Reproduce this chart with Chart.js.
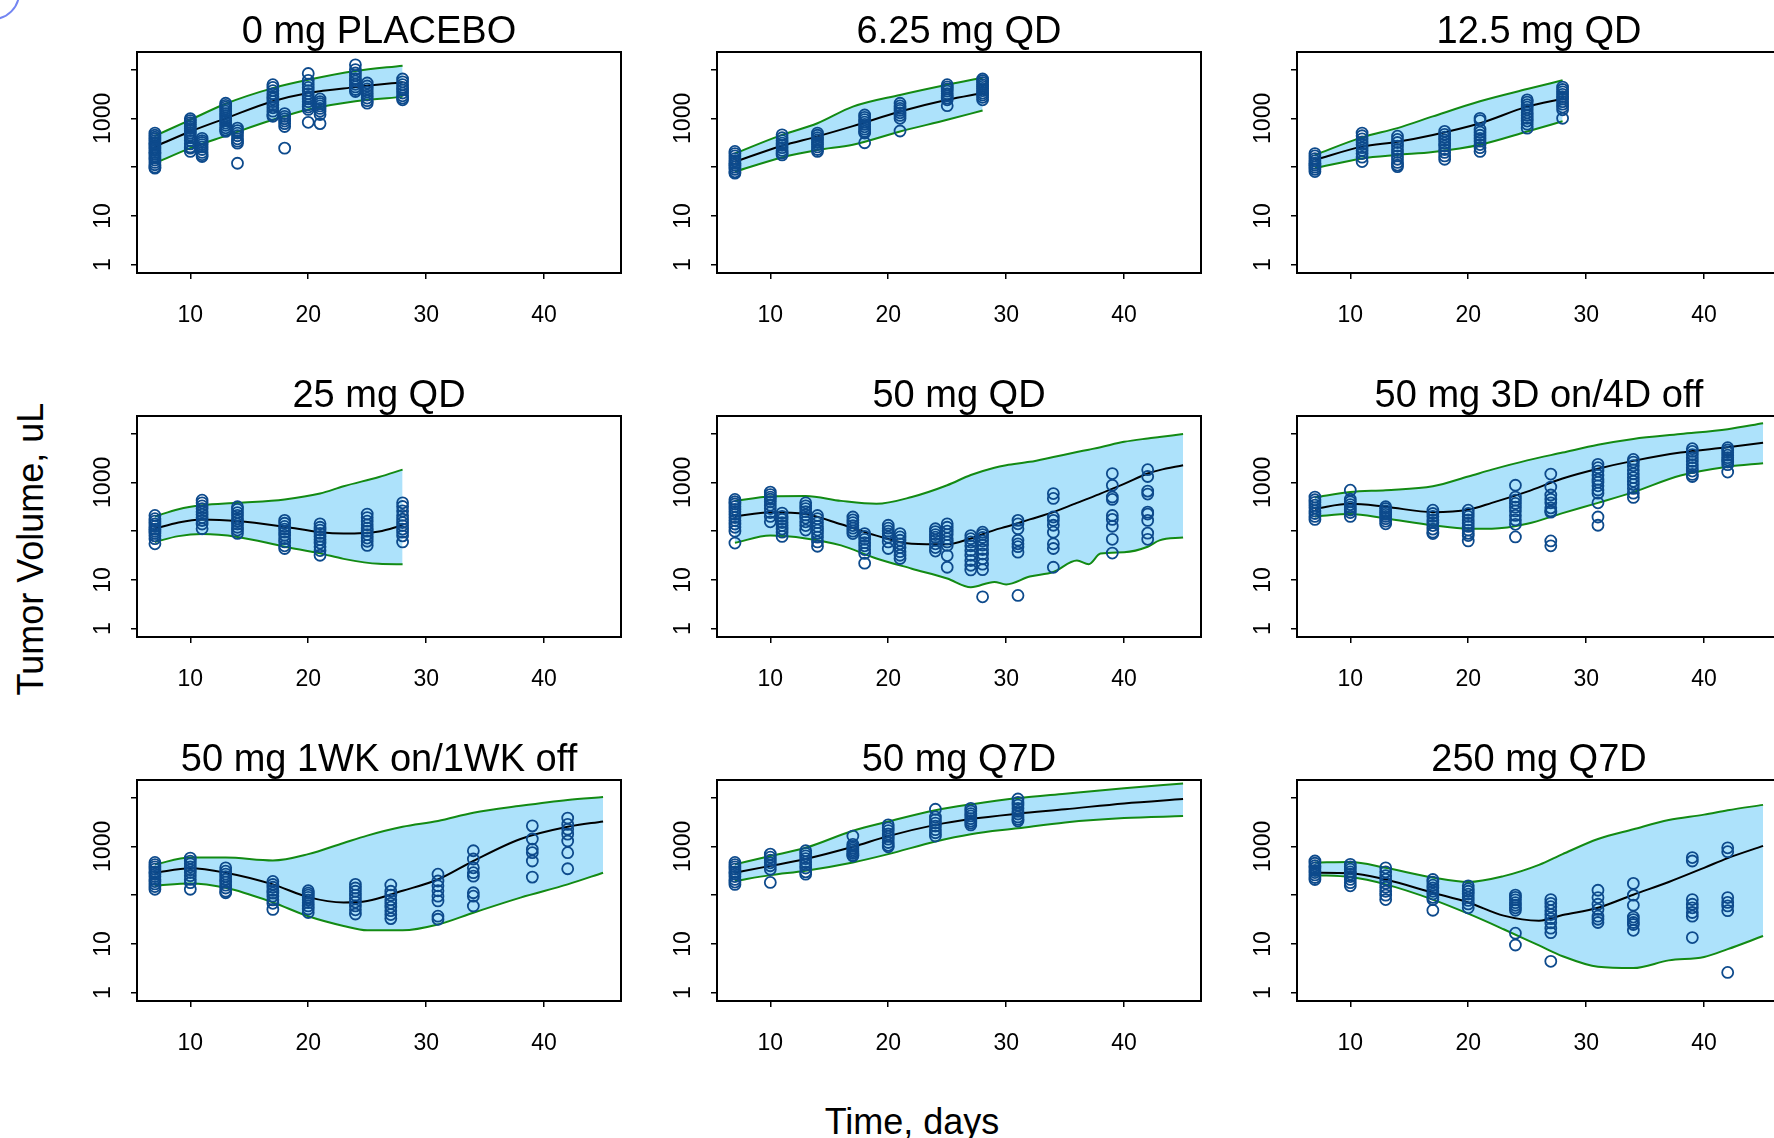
<!DOCTYPE html>
<html>
<head>
<meta charset="utf-8">
<title>Tumor volume by regimen</title>
<script src="https://cdn.jsdelivr.net/npm/chart.js@4.4.1/dist/chart.umd.min.js"></script>
<style>
  html, body { margin: 0; padding: 0; background: #fff; overflow: hidden; }
  body { width: 1774px; height: 1138px; position: relative; font-family: "Liberation Sans", Arial, sans-serif; }
  canvas { position: absolute; }
  .axis-title { position: absolute; font-size: 36px; line-height: 1; color: #000; white-space: nowrap; transform: translate(-50%, -50%); }
  #ylab { left: 31px; top: 549px; transform: translate(-50%, -50%) rotate(-90deg); }
  #xlab { left: 912px; top: 1122px; }
  #corner { position: absolute; left: -34px; top: -34px; width: 50px; height: 50px; border: 2px solid #7385f2; border-radius: 50%; }
</style>
</head>
<body>
<div id="corner"></div>
<div class="axis-title" id="ylab">Tumor Volume, uL</div>
<div class="axis-title" id="xlab">Time, days</div>
<script>
// panel titles and axis ticks
const panelTitles = ['0 mg PLACEBO', '6.25 mg QD', '12.5 mg QD', '25 mg QD', '50 mg QD',
    '50 mg 3D on/4D off', '50 mg 1WK on/1WK off', '50 mg Q7D', '250 mg Q7D'];
const xTickValues = [10, 20, 30, 40];
const yTickValues = [1, 10, 100, 1000, 10000];
const yTickLabels = ['1', '10', '', '1000', ''];

// 0 mg PLACEBO
const obsDays1 = [7, 10, 11, 13, 14, 17, 18, 20, 21, 24, 25, 28];
const obsVals1 = [
    [500, 450, 410, 380, 350, 320, 300, 280, 260, 240, 220, 200, 185, 170, 155, 140, 125, 112, 100, 95],
    [980, 900, 820, 750, 680, 620, 560, 500, 450, 400, 350, 300, 260, 245, 210],
    [390, 350, 320, 290, 260, 230, 200, 180, 165],
    [2040, 1850, 1700, 1550, 1400, 1250, 1120, 1000, 900, 800, 720, 640, 580, 540],
    [630, 560, 500, 440, 380, 340, 310, 120],
    [4900, 4300, 3700, 3200, 2800, 2500, 2200, 1900, 1650, 1400, 1200, 1100],
    [1250, 1100, 980, 880, 780, 680, 245],
    [8300, 6000, 5000, 4300, 3700, 3200, 2800, 2500, 2200, 1900, 1700, 1520, 830],
    [2500, 2200, 2000, 1800, 1600, 1400, 1200, 780],
    [12500, 10000, 8500, 7500, 6500, 5800, 5000, 4400, 3900, 3550],
    [5300, 4600, 4000, 3500, 3000, 2600, 2300, 2050],
    [6400, 5600, 4900, 4300, 3800, 3300, 2900, 2600, 2400]
];
const lineDays1 = [7, 10, 13, 17, 20, 24, 28];
const median1 = [263, 537, 1000, 2239, 3311, 4365, 5495];
const lower1 = [120, 245, 437, 933, 1514, 2239, 2754];
const upper1 = [437, 933, 1995, 4169, 6166, 9333, 12023];

// 6.25 mg QD
const obsDays2 = [7, 11, 14, 18, 21, 25, 28];
const obsVals2 = [
    [210, 190, 170, 150, 135, 120, 110, 100, 90, 80, 75],
    [460, 400, 350, 310, 280, 250, 220, 195, 178],
    [500, 450, 400, 360, 320, 290, 260, 230, 210],
    [1170, 1050, 940, 840, 750, 670, 600, 540, 500, 316],
    [2040, 1800, 1600, 1450, 1300, 1150, 1000, 550],
    [4900, 4400, 4000, 3600, 3200, 2900, 2600, 2400, 1820],
    [6400, 5900, 5400, 4900, 4500, 4100, 3700, 3300, 3000, 2700, 2400]
];
const lineDays2 = [7, 11, 14, 17, 21, 25, 28];
const median2 = [129, 275, 427, 692, 1380, 2399, 3311];
const lower2 = [81, 158, 224, 288, 537, 933, 1445];
const upper2 = [191, 457, 794, 1738, 3020, 4898, 6761];

// 12.5 mg QD
const obsDays3 = [7, 11, 14, 18, 21, 25, 28];
const obsVals3 = [
    [190, 170, 150, 135, 120, 110, 100, 90, 81],
    [500, 440, 380, 330, 290, 250, 220, 190, 160, 130],
    [430, 370, 320, 270, 230, 200, 170, 145, 125, 110, 102],
    [540, 470, 410, 360, 310, 270, 230, 200, 170, 145],
    [1000, 900, 600, 520, 450, 390, 340, 290, 250, 210],
    [2400, 2150, 1900, 1700, 1500, 1300, 1150, 1000, 880, 760, 630],
    [4370, 3900, 3500, 3100, 2800, 2500, 2200, 1950, 1700, 1500, 1000]
];
const lineDays3 = [7, 11, 14, 17, 21, 25, 28];
const median3 = [141, 263, 331, 457, 794, 1738, 2512];
const lower3 = [95, 151, 178, 204, 288, 537, 871];
const upper3 = [178, 407, 631, 1096, 2239, 3981, 6026];

// 25 mg QD
const obsDays4 = [7, 11, 14, 18, 21, 25, 28];
const obsVals4 = [
    [210, 180, 160, 140, 125, 110, 100, 90, 80, 70, 55],
    [430, 380, 330, 290, 250, 220, 190, 165, 140, 112],
    [316, 280, 240, 210, 180, 160, 140, 120, 105, 90],
    [166, 145, 125, 110, 95, 82, 70, 60, 50, 44],
    [141, 120, 105, 90, 78, 67, 57, 48, 40, 32],
    [224, 190, 160, 135, 115, 100, 85, 72, 62, 51],
    [380, 320, 260, 210, 175, 150, 130, 110, 95, 80, 60]
];
const lineDays4 = [7, 9, 11, 14, 18, 21, 23, 26, 28];
const median4 = [112, 151, 174, 162, 123, 95, 89, 98, 132];
const lower4 = [60, 79, 87, 76, 48, 35, 27, 21.4, 21];
const upper4 = [200, 282, 339, 380, 447, 589, 832, 1288, 1820];

// 50 mg QD
const obsDays5 = [7, 10, 11, 13, 14, 17, 18, 20, 21, 24, 25, 27, 28, 31, 34, 39, 42];
const obsVals5 = [
    [447, 400, 360, 320, 280, 250, 220, 190, 165, 140, 120, 100, 57],
    [630, 560, 500, 450, 400, 340, 290, 240, 200, 155],
    [234, 200, 175, 150, 130, 110, 95, 78],
    [380, 330, 290, 250, 215, 185, 155, 130, 105],
    [209, 180, 150, 125, 105, 90, 75, 60, 49],
    [195, 170, 150, 130, 115, 100, 89],
    [89, 78, 68, 58, 50, 42, 35, 22],
    [132, 115, 100, 88, 75, 60, 44],
    [89, 76, 65, 55, 46, 38, 32, 27.5],
    [112, 98, 85, 75, 65, 55, 46, 39],
    [141, 120, 100, 85, 70, 60, 51, 31.6, 18.2],
    [81, 70, 60, 50, 40, 32, 25, 20, 16],
    [95, 85, 74, 63, 52, 42, 34, 27, 21, 16.2, 4.5],
    [166, 141, 112, 65, 55, 48, 37, 4.8],
    [589, 468, 195, 166, 132, 95, 55, 44, 18.2],
    [1514, 871, 501, 447, 209, 174, 126, 68, 35.5],
    [1820, 1318, 661, 575, 245, 224, 166, 91, 68]
];
const lineDays5 = [7, 10, 13, 16, 19, 22, 25, 27, 29, 30, 32, 34, 36, 37, 38, 40, 42, 43, 45];
const median5 = [200, 245, 224, 138, 81, 55, 53.7, 70.8, 105, 123, 174, 245, 380, 468, 589, 933, 1514, 1778, 2239];
const lower5 = [57.5, 81, 71, 51, 27.5, 17, 10.7, 7.1, 9.1, 8.1, 11.7, 14.5, 25, 21, 34.7, 37, 47.9, 64.6, 74];
const upper5 = [417, 513, 525, 417, 363, 501, 871, 1413, 1995, 2239, 2630, 3311, 4169, 4677, 5248, 6761, 7943, 8511, 9772];

// 50 mg 3D on/4D off
const obsDays6 = [7, 10, 13, 17, 20, 24, 27, 31, 34, 39, 42];
const obsVals6 = [
    [500, 440, 390, 340, 300, 260, 230, 200, 174],
    [690, 450, 400, 350, 310, 270, 240, 200],
    [316, 290, 260, 240, 220, 200, 180, 160, 141],
    [269, 230, 200, 170, 150, 130, 110, 95, 89],
    [269, 230, 200, 170, 145, 125, 105, 90, 81, 63],
    [871, 500, 430, 370, 310, 260, 210, 170, 138, 76],
    [1479, 800, 550, 450, 380, 300, 260, 245, 63, 50],
    [2344, 2000, 1700, 1400, 1150, 1000, 850, 700, 600, 380, 195, 132],
    [2951, 2600, 2200, 1800, 1500, 1250, 1050, 900, 750, 600, 490],
    [4898, 4300, 3700, 3200, 2700, 2300, 2000, 1700, 1450, 1318],
    [5129, 4600, 4100, 3600, 3200, 2900, 2600, 2300, 1622]
];
const lineDays6 = [7, 10, 13, 17, 20, 22, 25, 28, 31, 34, 38, 42, 45];
const median6 = [288, 363, 316, 245, 275, 380, 646, 1202, 1905, 2754, 4074, 5248, 6457];
const lower6 = [200, 224, 182, 132, 112, 112, 141, 234, 380, 631, 1380, 2089, 2455];
const upper6 = [490, 631, 692, 832, 1318, 1820, 2818, 4074, 5888, 7762, 9772, 12303, 16218];

// 50 mg 1WK on/1WK off
const obsDays7 = [7, 10, 13, 17, 20, 24, 27, 31, 34, 39, 42];
const obsVals7 = [
    [468, 420, 380, 340, 300, 270, 240, 210, 190, 170, 150, 132],
    [575, 500, 440, 380, 330, 290, 250, 210, 180, 132],
    [363, 310, 270, 240, 210, 185, 160, 140, 120, 112],
    [191, 165, 145, 125, 110, 95, 80, 68, 51],
    [123, 110, 100, 90, 80, 70, 60, 52, 44],
    [166, 140, 120, 100, 85, 72, 60, 50, 41],
    [162, 120, 100, 80, 68, 57, 48, 40, 33],
    [269, 195, 155, 123, 95, 76, 37, 32],
    [813, 550, 363, 288, 245, 112, 95, 60],
    [2630, 1413, 871, 741, 501, 234],
    [3802, 2818, 2239, 1778, 1288, 741, 347]
];
const lineDays7 = [7, 10, 13, 17, 20, 23, 25, 28, 31, 34, 38, 42, 45];
const median7 = [288, 355, 288, 166, 91, 70.8, 75.9, 123, 209, 501, 1413, 2512, 3236];
const lower7 = [155, 174, 141, 70.8, 37, 23.4, 19, 19, 25, 43.6, 89, 166, 288];
const upper7 = [427, 589, 589, 513, 692, 1175, 1660, 2512, 3311, 4898, 6761, 8913, 10233];

// 50 mg Q7D
const obsDays8 = [7, 10, 13, 17, 20, 24, 27, 31];
const obsVals8 = [
    [468, 420, 380, 340, 300, 270, 240, 210, 185, 166],
    [692, 600, 520, 460, 400, 339, 182],
    [813, 720, 640, 560, 480, 420, 360, 300, 269],
    [1622, 1100, 1000, 920, 850, 780, 720, 660, 631],
    [2754, 2400, 2100, 1800, 1600, 1400, 1200, 1050, 977],
    [5754, 4000, 3500, 3000, 2600, 2200, 1900, 1622],
    [6026, 5300, 4700, 4200, 3700, 3300, 3000, 2754],
    [9333, 8000, 7000, 6000, 5200, 4600, 4000, 3600, 3311]
];
const lineDays8 = [7, 10, 13, 17, 20, 24, 27, 31, 35, 40, 45];
const median8 = [288, 398, 550, 977, 1622, 2754, 3631, 4677, 5754, 7586, 9333];
const lower8 = [195, 257, 316, 468, 692, 1259, 1778, 2344, 3090, 3802, 4169];
const upper8 = [427, 631, 933, 2089, 3236, 5495, 7244, 9772, 12023, 15488, 19498];

// 250 mg Q7D
const obsDays9 = [7, 10, 13, 17, 20, 24, 27, 31, 34, 39, 42];
const obsVals9 = [
    [501, 450, 400, 360, 320, 290, 260, 230, 209],
    [427, 380, 340, 300, 270, 240, 210, 180, 155],
    [363, 300, 250, 210, 175, 145, 120, 100, 81],
    [209, 185, 160, 140, 120, 105, 90, 81, 49],
    [155, 135, 120, 105, 90, 78, 66, 55],
    [100, 90, 80, 70, 62, 55, 49, 16.6, 9.5],
    [81, 68, 58, 48, 40, 33, 27, 21, 17, 4.4],
    [126, 89, 65, 51, 37, 32, 27.5],
    [174, 100, 62, 35.5, 31.6, 27.5, 25, 19],
    [589, 501, 81, 65, 55, 44, 37, 13.5],
    [933, 776, 89, 71, 60, 48, 2.6]
];
const lineDays9 = [7, 10, 13, 17, 20, 23, 26, 28, 31, 34, 37, 40, 42, 45];
const median9 = [288, 282, 209, 112, 70.8, 38, 30, 39, 55, 102, 186, 363, 575, 1023];
const lower9 = [257, 234, 166, 81, 41.7, 20, 9.3, 5.6, 3.4, 3.2, 4.6, 5.4, 7.8, 14.5];
const upper9 = [468, 479, 363, 229, 186, 245, 417, 692, 1413, 2239, 3467, 4467, 5495, 7079];

const FONT = '"Liberation Sans", Arial, sans-serif';
const boxLeft = [137, 717, 1297];
const boxTop = [52, 416, 780];
const BOX_W = 484, BOX_H = 221;
const PAD_LEFT = 120, PAD_TOP = 60, PAD_RIGHT = 12, AXIS_H = 70;

// black frame round the plot region, like R's box()
const frameBox = {
    id: 'frameBox',
    afterDraw(chart) {
        const { ctx, chartArea: a } = chart;
        ctx.save();
        ctx.strokeStyle = '#000';
        ctx.lineWidth = 2;
        ctx.strokeRect(a.left, a.top, a.right - a.left, a.bottom - a.top);
        ctx.restore();
    }
};

function makePanel(idx, obsDays, obsVals, lineDays, median, lower, upper) {
    const col = idx % 3, row = Math.floor(idx / 3);
    const cv = document.createElement('canvas');
    cv.width = PAD_LEFT + BOX_W + PAD_RIGHT;
    cv.height = PAD_TOP + BOX_H + AXIS_H;
    cv.style.left = (boxLeft[col] - PAD_LEFT) + 'px';
    cv.style.top = (boxTop[row] - PAD_TOP) + 'px';
    document.body.appendChild(cv);

    const points = [];
    obsDays.forEach((d, j) => obsVals[j].forEach(v => points.push({ x: d, y: v })));
    const toXY = arr => lineDays.map((d, j) => ({ x: d, y: arr[j] }));
    const bandLine = { borderColor: '#138a13', borderWidth: 2, pointRadius: 0, cubicInterpolationMode: 'monotone' };

    new Chart(cv, {
        type: 'line',
        data: {
            datasets: [
                { type: 'scatter', data: points, showLine: false, pointStyle: 'circle', pointRadius: 5.5,
                  pointBorderWidth: 1.8, pointBorderColor: '#0d4a8c', pointBackgroundColor: 'rgba(0,0,0,0)' },
                { data: toXY(median), borderColor: '#000', borderWidth: 2, pointRadius: 0,
                  cubicInterpolationMode: 'monotone', fill: false },
                { ...bandLine, data: toXY(upper), fill: '+1', backgroundColor: '#ade2fb' },
                { ...bandLine, data: toXY(lower), fill: false }
            ]
        },
        options: {
            responsive: false,
            animation: false,
            devicePixelRatio: 1,
            events: [],
            layout: { padding: { left: 0, right: PAD_RIGHT, top: 0, bottom: 0 } },
            plugins: {
                legend: { display: false },
                tooltip: { enabled: false },
                filler: { drawTime: 'beforeDatasetsDraw' },
                title: {
                    display: true, fullSize: false, text: panelTitles[idx], color: '#000',
                    font: { family: FONT, size: 38, weight: 'normal', lineHeight: '44px' },
                    padding: { top: 19, bottom: -3 }
                }
            },
            scales: {
                x: {
                    type: 'linear', min: 5.48, max: 46.52,
                    afterFit: s => { s.height = AXIS_H; },
                    afterBuildTicks: s => { s.ticks = xTickValues.map(v => ({ value: v })); },
                    ticks: { color: '#000', font: { family: FONT, size: 23 }, padding: 23,
                             autoSkip: false, maxRotation: 0, callback: v => String(v) },
                    grid: { drawOnChartArea: false, drawTicks: true, tickLength: 6, color: '#000', lineWidth: 1.5 },
                    border: { display: false }
                },
                y: {
                    type: 'logarithmic', min: 0.676, max: 22900,
                    afterFit: s => { s.width = PAD_LEFT; },
                    afterBuildTicks: s => { s.ticks = yTickValues.map(v => ({ value: v })); },
                    ticks: { color: '#000', font: { family: FONT, size: 23 }, padding: 2, crossAlign: 'center',
                             minRotation: 90, maxRotation: 90, autoSkip: false,
                             callback: (v, i) => yTickLabels[i] },
                    grid: { drawOnChartArea: false, drawTicks: true, tickLength: 6, color: '#000', lineWidth: 1.5 },
                    border: { display: false }
                }
            }
        },
        plugins: [frameBox]
    });
}

makePanel(0, obsDays1, obsVals1, lineDays1, median1, lower1, upper1);
makePanel(1, obsDays2, obsVals2, lineDays2, median2, lower2, upper2);
makePanel(2, obsDays3, obsVals3, lineDays3, median3, lower3, upper3);
makePanel(3, obsDays4, obsVals4, lineDays4, median4, lower4, upper4);
makePanel(4, obsDays5, obsVals5, lineDays5, median5, lower5, upper5);
makePanel(5, obsDays6, obsVals6, lineDays6, median6, lower6, upper6);
makePanel(6, obsDays7, obsVals7, lineDays7, median7, lower7, upper7);
makePanel(7, obsDays8, obsVals8, lineDays8, median8, lower8, upper8);
makePanel(8, obsDays9, obsVals9, lineDays9, median9, lower9, upper9);
</script>
</body>
</html>
